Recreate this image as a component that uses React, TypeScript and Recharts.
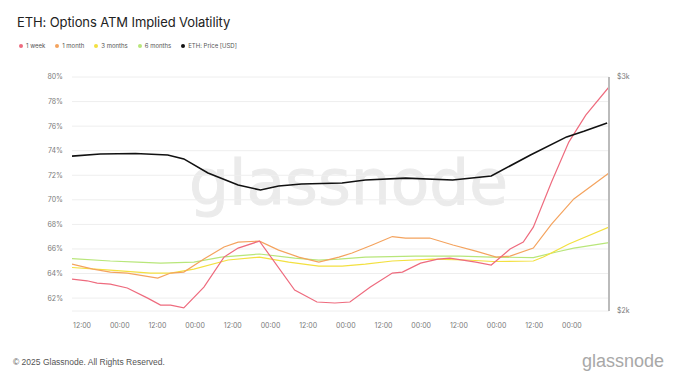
import React from "react";
import { LineChart, Line, XAxis, YAxis, CartesianGrid } from "recharts";

// hours since 00:00 of day 0
const priceT = [8.8, 17.8, 29, 39.3, 44.4, 52.1, 61.7, 68.8, 74.6, 81.9, 94.8, 102.2, 115, 130, 142.3, 154.8, 166.3, 171.8, 179.2];
const priceV = [2662, 2671, 2673, 2667, 2650, 2590, 2538, 2517, 2534, 2543, 2547, 2560, 2568, 2560, 2577, 2667, 2744, 2768, 2803];

const weekT = [8.8, 13.6, 16.8, 21, 26.4, 32.9, 37, 40.2, 44.4, 50.8, 57.2, 61.7, 68.5, 79.7, 86.8, 92.5, 97.3, 103.8, 110.8, 114, 119.8, 125.3, 129.1, 137.4, 142.3, 148.3, 152.5, 155.7, 161.5, 167, 172.4, 179.8];
const weekV = [63.55, 63.41, 63.22, 63.14, 62.82, 62.0, 61.43, 61.43, 61.2, 62.9, 65.34, 66.07, 66.64, 62.65, 61.68, 61.6, 61.68, 62.9, 64.04, 64.12, 64.85, 65.18, 65.26, 64.93, 64.69, 65.99, 66.56, 67.78, 71.45, 74.7, 76.9, 79.19];

const monthT = [8.8, 15.5, 21, 26.4, 36.1, 40.2, 44.4, 50.8, 57.2, 61.7, 68.5, 74.6, 81, 87.4, 93.8, 98, 104.4, 110.8, 115, 122.7, 130.1, 137.4, 143.9, 148.3, 155.7, 161.5, 168.6, 179.8];
const monthV = [64.77, 64.36, 64.12, 64.04, 63.63, 64.04, 64.12, 65.18, 66.16, 66.56, 66.64, 65.91, 65.34, 64.93, 65.34, 65.67, 66.32, 67.01, 66.89, 66.89, 66.32, 65.83, 65.34, 65.42, 66.07, 68.03, 70.07, 72.18];

const m3T = [8.8, 21, 33.8, 40.2, 47.6, 58.5, 68.5, 77.8, 87.4, 94.8, 102.2, 110.8, 123.6, 134.2, 142.9, 155.7, 158.9, 167, 179.8];
const m3V = [64.49, 64.28, 64.04, 64.04, 64.36, 65.1, 65.34, 64.93, 64.61, 64.61, 64.77, 65.02, 65.18, 65.1, 64.98, 65.02, 65.34, 66.4, 67.78];

const m6T = [8.8, 21, 29.6, 37, 47.6, 56.3, 68.5, 79.7, 87.4, 93.8, 102.2, 118.2, 132.3, 142.3, 155.7, 163.1, 168.6, 179.8];
const m6V = [65.22, 65.02, 64.93, 64.85, 64.93, 65.34, 65.59, 65.26, 65.1, 65.18, 65.34, 65.42, 65.42, 65.34, 65.3, 65.75, 66.07, 66.52];

const xTicks = [12, 24, 36, 48, 60, 72, 84, 96, 108, 120, 132, 144, 156, 168];
const yTicks = [62, 64, 66, 68, 70, 72, 74, 76, 78, 80];
const priceTicks = [2000, 3000];

const legendItems = [
  { label: "1 week", color: "#ee6b7e" },
  { label: "1 month", color: "#f4a35e" },
  { label: "3 months", color: "#f3e040" },
  { label: "6 months", color: "#b8e67a" },
  { label: "ETH: Price [USD]", color: "#111111" },
];

const zip = (t: number[], v: number[]) => t.map((x, i) => ({ t: x, v: v[i] }));

const weekData = zip(weekT, weekV);
const monthData = zip(monthT, monthV);
const m3Data = zip(m3T, m3V);
const m6Data = zip(m6T, m6V);
const priceData = zip(priceT, priceV);

const tickStyle = { fontSize: 7, fill: "#7a7a7a", stroke: "none", fontFamily: "Inter" };

export default function App() {
  return (
    <div style={{ position: "absolute", left: 0, top: 0, width: 680, height: 383, background: "#fff", overflow: "hidden", fontFamily: "Inter" }}>
      <div style={{ position: "absolute", left: 17, top: 14, fontSize: 13, color: "#222", whiteSpace: "nowrap", letterSpacing: -0.1 }}>
        ETH: Options ATM Implied Volatility
      </div>
      <div style={{ position: "absolute", left: 19, top: 42, display: "flex", fontSize: 6, color: "#555", whiteSpace: "nowrap" }}>
        {legendItems.map((it) => (
          <div key={it.label} style={{ display: "flex", alignItems: "center", marginRight: 10 }}>
            <span style={{ width: 4, height: 4, borderRadius: 2, background: it.color, display: "inline-block", marginRight: 3 }} />
            <span>{it.label}</span>
          </div>
        ))}
      </div>
      <div style={{ position: "absolute", left: 189, top: 151, fontSize: 63, lineHeight: 1, color: "#ebebeb", fontFamily: "DejaVu Sans", whiteSpace: "nowrap", WebkitTextStroke: "1px #ebebeb" }}>
        glassnode
      </div>
      <div style={{ position: "absolute", left: 0, top: 0 }}>
        <LineChart width={680} height={345} margin={{ top: 77, right: 11, bottom: 4, left: 12 }}>
          <CartesianGrid vertical={false} stroke="#eeeeee" yAxisId="vol" />
          <XAxis
            dataKey="t"
            type="number"
            domain={[8.8, 179.8]}
            ticks={xTicks}
            tickFormatter={(v: number) => (v % 24 === 0 ? "00:00" : "12:00")}
            axisLine={false}
            tickLine={false}
            tickSize={0}
            tickMargin={12}
            height={30}
            tick={tickStyle}
            allowDataOverflow
          />
          <YAxis
            yAxisId="vol"
            dataKey="v"
            domain={[60.95, 80]}
            ticks={yTicks}
            tickFormatter={(v: number) => `${v}%`}
            axisLine={false}
            tickLine={false}
            tickSize={0}
            tickMargin={9}
            width={60}
            tick={tickStyle}
            allowDataOverflow
          />
          <YAxis
            yAxisId="price"
            orientation="right"
            domain={[2000, 3000]}
            ticks={priceTicks}
            tickFormatter={(v: number) => `$${v / 1000}k`}
            axisLine={{ stroke: "#bbbbbb", strokeWidth: 2 }}
            tickLine={false}
            tickSize={0}
            tickMargin={8}
            width={60}
            tick={{ ...tickStyle, textAnchor: "start" }}
            allowDataOverflow
          />
          <Line yAxisId="vol" data={m6Data} dataKey="v" type="linear" stroke="#b8e67a" strokeWidth={1.2} dot={false} isAnimationActive={false} />
          <Line yAxisId="vol" data={m3Data} dataKey="v" type="linear" stroke="#f3e040" strokeWidth={1.2} dot={false} isAnimationActive={false} />
          <Line yAxisId="vol" data={monthData} dataKey="v" type="linear" stroke="#f4a35e" strokeWidth={1.2} dot={false} isAnimationActive={false} />
          <Line yAxisId="vol" data={weekData} dataKey="v" type="linear" stroke="#ee6b7e" strokeWidth={1.2} dot={false} isAnimationActive={false} />
          <Line yAxisId="price" data={priceData} dataKey="v" type="linear" stroke="#111111" strokeWidth={1.6} dot={false} isAnimationActive={false} />
        </LineChart>
      </div>
      <div style={{ position: "absolute", left: 13, top: 357, fontSize: 8.5, color: "#555", fontFamily: "Liberation Sans", whiteSpace: "nowrap" }}>
        © 2025 Glassnode. All Rights Reserved.
      </div>
      <div style={{ position: "absolute", left: 582, top: 351, fontSize: 18, color: "#a8a8a8", fontFamily: "Liberation Sans", whiteSpace: "nowrap" }}>
        glassnode
      </div>
    </div>
  );
}
